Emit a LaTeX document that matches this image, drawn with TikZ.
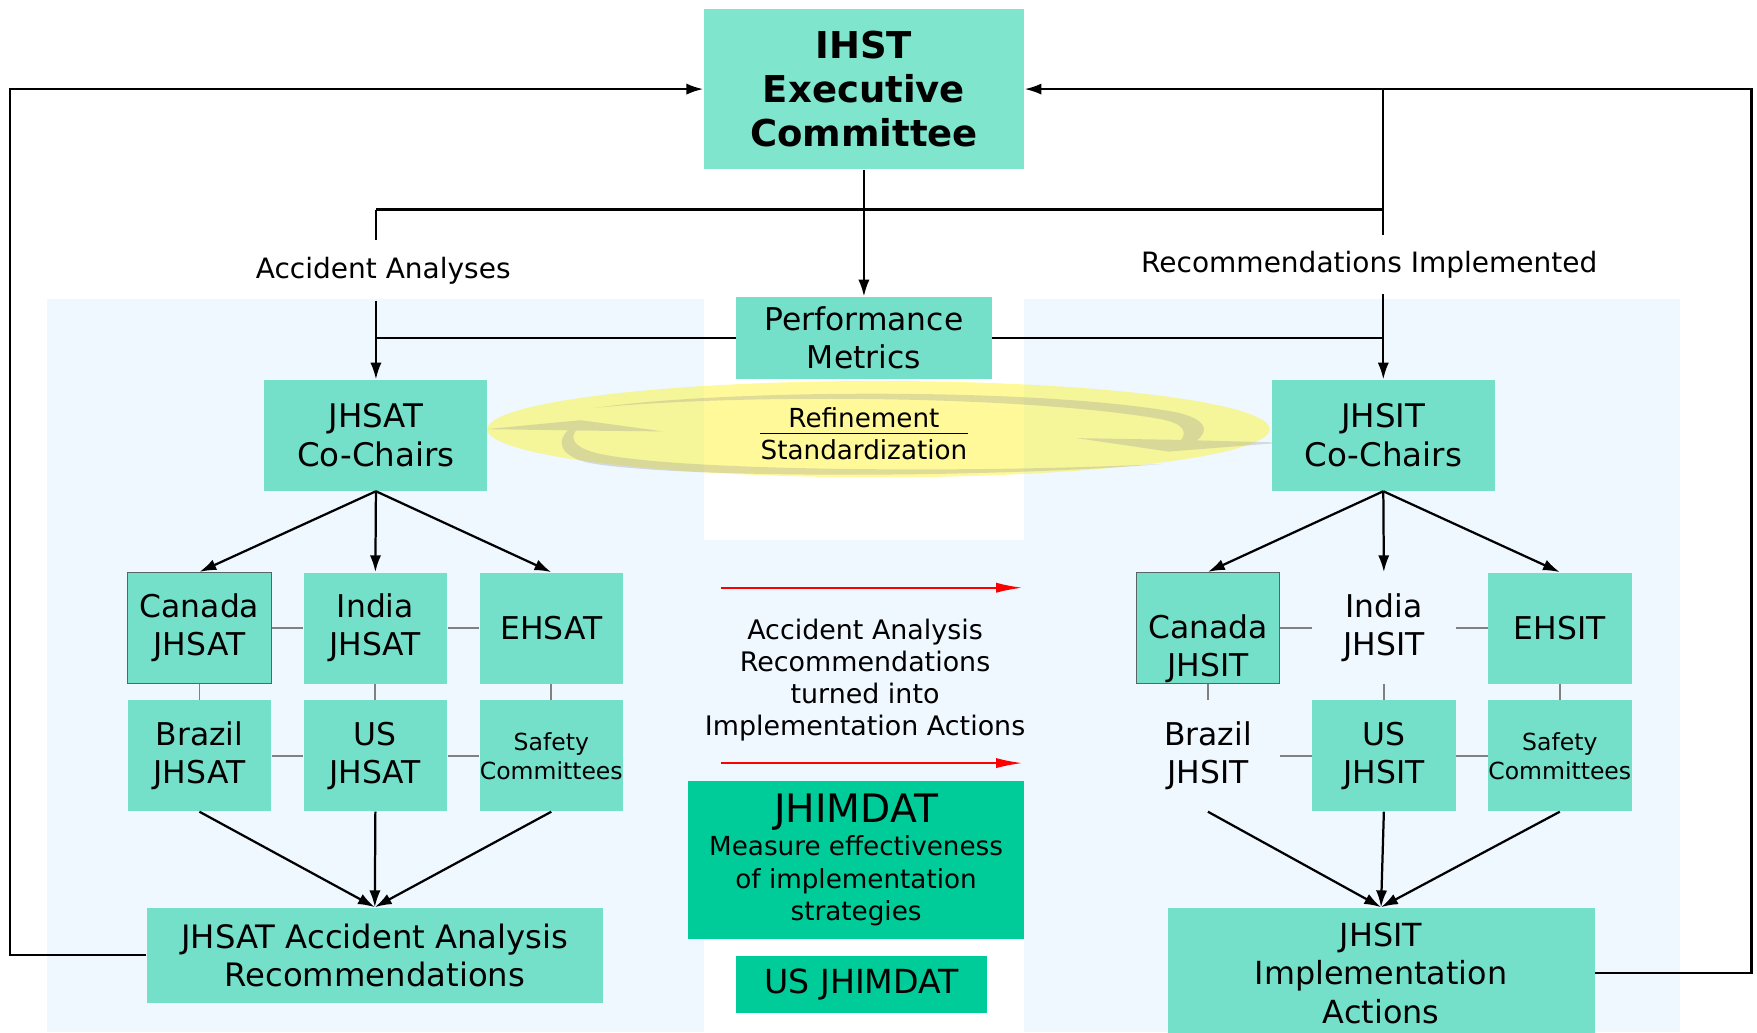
\documentclass[tikz,border=0pt]{standalone}
\usepackage{fontspec}
\setmainfont{DejaVu Sans}
\usetikzlibrary{arrows.meta}

\definecolor{topgreen}{RGB}{128,229,205}
\definecolor{boxgreen}{RGB}{117,224,202}
\definecolor{deepgreen}{RGB}{0,204,153}
\definecolor{panelblue}{RGB}{239,247,255}
\definecolor{linkgray}{RGB}{128,128,128}
\definecolor{edgegray}{RGB}{90,100,100}
\definecolor{swirlgray}{RGB}{150,150,150}

\newcommand{\fsz}[2]{\fontsize{#1}{#2}\selectfont}

\begin{document}
\begin{tikzpicture}[x=0.5pt,y=-0.5pt,
  box/.style={fill=boxgreen, align=center, inner sep=0pt, font=\fsz{14}{17}},
  cell/.style={box, minimum width=64pt, minimum height=49.5pt},
  ghost/.style={cell, fill=none},
  edged/.style={draw=edgegray, line width=0.6pt},
  link/.style={draw=linkgray, line width=0.8pt},
  wire/.style={line width=1pt},
  flow/.style={line width=1pt, -{Latex[length=7.5pt,width=5pt]}},
  redarrow/.style={red, line width=1pt, -{Latex[length=12pt,width=4.5pt]}},
  tag/.style={font=\fsz{12.5}{15}, inner sep=0pt}]
\useasboundingbox (0,0) rectangle (1568,921);
\clip (0,0) rectangle (1568,921);

% panels
\fill[panelblue] (42,267) rectangle (1499,921);
\fill[white] (628,267) rectangle (914,482);
\fill[white] (628,839) rectangle (914,921);

% refinement loop
\fill[yellow, fill opacity=0.4] (784,383) ellipse [x radius=349, y radius=43];
\fill[swirlgray, fill opacity=0.3] (531,364) .. controls (650,347) and (930,346) .. (1050,368) .. controls (1076,374) and (1080,384) .. (1068,393) -- (1145,395) -- (1043,403) -- (961,391) -- (1054,392.6) .. controls (1062,382) and (1050,376) .. (1030,373) .. controls (900,352) and (650,352) .. cycle;
\fill[swirlgray, fill opacity=0.3] (1038,414) .. controls (880,427) and (600,427) .. (525,413) .. controls (500,407) and (496,394) .. (507,384) -- (434,383) -- (518,375) -- (592,385) -- (514,384.2) .. controls (508,392) and (513,400) .. (535,405) .. controls (610,421) and (880,422) .. cycle;
\node[font=\fsz{11.7}{14}, inner sep=0pt] (refn) at (771,373) {Refinement};
\node[font=\fsz{11.7}{14}, inner ysep=2.5pt, inner xsep=0pt] (stdz) at (771,401) {Standardization};
\draw[line width=0.5pt] (stdz.north west) -- (stdz.north east);

% top
\node[box, fill=topgreen, minimum width=143pt, minimum height=71.5pt, font=\bfseries\fsz{16.5}{19.5}] (exec) at (771,79.5) {IHST\\Executive\\Committee};
\node[box, minimum width=114pt, minimum height=36.5pt] (perf) at (771,301.5) {Performance\\Metrics};
\node[box, minimum width=99.5pt, minimum height=49.5pt, font=\fsz{14.5}{17.5}] (jcc) at (335.5,388.5) {JHSAT\\Co-Chairs};
\node[box, minimum width=99.5pt, minimum height=49.5pt, font=\fsz{14.5}{17.5}] (icc) at (1234.5,388.5) {JHSIT\\Co-Chairs};
\node[tag, minimum height=26.5pt] (aalab) at (342,241.5) {Accident Analyses};
\node[tag, minimum height=26pt] (rilab) at (1222,236) {Recommendations Implemented};

% JHSAT teams
\node[cell, edged] (can1) at (178,560.5) {Canada\\JHSAT};
\node[cell] (ind1) at (335,560.5) {India\\JHSAT};
\node[cell] (eh1) at (492,560.5) {EHSAT};
\node[cell] (bra1) at (178,674.5) {Brazil\\JHSAT};
\node[cell] (us1) at (335,674.5) {US\\JHSAT};
\node[cell, font=\fsz{10.5}{13}] (saf1) at (492,674.5) {Safety\\Committees};

% JHSIT teams
\node[cell, edged] (can2) at (1078,560.5) {};
\node[inner sep=0pt, align=center, font=\fsz{14}{17}] (can2txt) at (1078,579) {Canada\\JHSIT};
\node[ghost] (ind2) at (1235,560.5) {India\\JHSIT};
\node[cell] (eh2) at (1392,560.5) {EHSIT};
\node[ghost] (bra2) at (1078,674.5) {Brazil\\JHSIT};
\node[cell] (us2) at (1235,674.5) {US\\JHSIT};
\node[cell, font=\fsz{10.5}{13}] (saf2) at (1392,674.5) {Safety\\Committees};

% bottom
\node[box, minimum width=203.5pt, minimum height=42.5pt, font=\fsz{14.4}{17}] (jrec) at (334.5,852.5) {JHSAT Accident Analysis\\Recommendations};
\node[box, minimum width=190.5pt, minimum height=58.5pt, font=\fsz{14.2}{17.25}] (jimp) at (1232.5,868.5) {JHSIT\\Implementation\\Actions};

% middle
\node[inner sep=0pt, align=center, font=\fsz{12}{14.25}] (turned) at (772,607) {Accident Analysis\\Recommendations\\turned into\\Implementation Actions};
\node[box, fill=deepgreen, minimum width=150pt, minimum height=70.5pt, font=\fsz{11.7}{14.5}] (jhim) at (764,767.5) {{\fsz{17.5}{17}JHIMDAT}\\[0.5pt]Measure effectiveness\\of implementation\\strategies};
\node[box, fill=deepgreen, minimum width=112pt, minimum height=25.5pt, font=\fsz{14.8}{17}] (usjhim) at (769,878.5) {US JHIMDAT};

\coordinate (redA) at (643,524.5);
\coordinate (redB) at (913,524.5);
\coordinate (redC) at (643,681);
\coordinate (redD) at (913,681);
\draw[redarrow] (redA) -- (redB);
\draw[redarrow] (redC) -- (redD);

% connectors
\coordinate (lrail) at (9,0);
\coordinate (rrail) at (1563,0);
\coordinate (bus) at (0,187);
\draw[flow] (jrec.west) -| (lrail |- exec.west) -- (exec.west);
\draw[flow] (jimp.east) -| (rrail |- exec.east) -- (exec.east);
\draw[flow] (exec.south) -- (perf.north);
\draw[wire] (jcc.north |- bus) -- (icc.north |- bus);
\draw[wire] (jcc.north |- bus) -- (jcc.north |- aalab.north);
\draw[flow] (jcc.north |- aalab.south) -- (jcc.north);
\draw[wire] (icc.north |- exec.east) -- (icc.north |- rilab.north);
\draw[flow] (icc.north |- rilab.south) -- (icc.north);
\draw[wire] (perf.west) -- (perf.west -| jcc.north);
\draw[wire] (perf.east) -- (perf.east -| icc.north);

\foreach \n in {can1,ind1,eh1} \draw[flow] (jcc.south) -- (\n.north);
\foreach \n in {can2,ind2,eh2} \draw[flow] (icc.south) -- (\n.north);
\foreach \n in {bra1,us1,saf1} \draw[flow] (\n.south) -- (jrec.north);
\foreach \n in {bra2,us2,saf2} \draw[flow] (\n.south) -- (jimp.north);

\foreach \a/\b in {can1/ind1,ind1/eh1,bra1/us1,us1/saf1,can1/bra1,ind1/us1,eh1/saf1,
  can2/ind2,ind2/eh2,bra2/us2,us2/saf2,can2/bra2,ind2/us2,eh2/saf2}
  \draw[link] (\a) -- (\b);
\end{tikzpicture}
\end{document}
